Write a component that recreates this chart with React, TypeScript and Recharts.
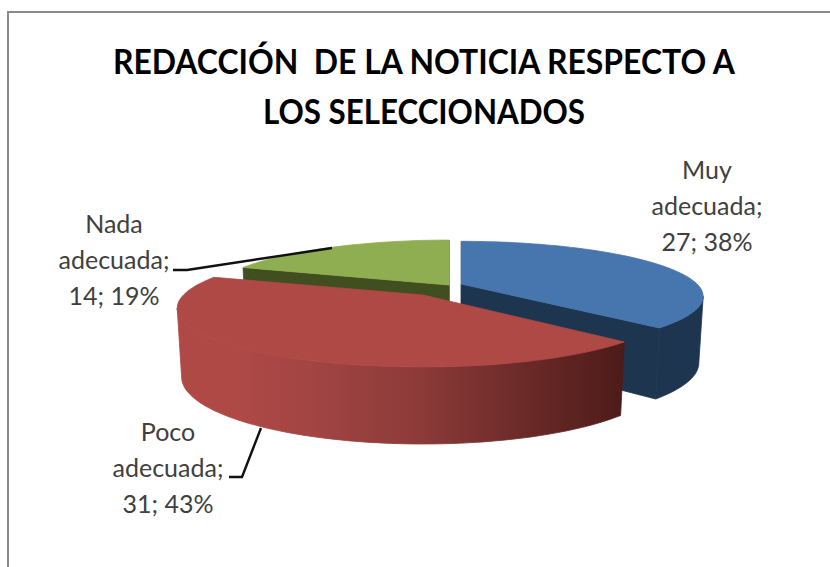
import { PieChart, Pie, Cell } from 'recharts';

// drawn green first so the later slices overlap it, same clockwise order as the picture
const CATEGORIES = ['Nada adecuada', 'Muy adecuada', 'Poco adecuada'];
const VALUES = [14, 27, 31];
const TOTAL = VALUES.reduce((a, b) => a + b, 0);

const TOP_COLORS = ['#8fae52', '#4776ae', '#ae4946'];
const EDGE_COLORS = ['#414f20', '#1e3550', '#5a2220'];
const WALL_STOPS = [
    [['0%', '#414f20'], ['100%', '#414f20']],
    [['0%', '#1e3550'], ['100%', '#1e3550']],
    [['0%', '#ae4946'], ['14%', '#ae4946'], ['30%', '#a24543'], ['55%', '#8b3a38'], ['82%', '#652725'], ['100%', '#4c1b19']],
];

// explosion of each slice and its small per-slice drawing corrections
const SLICE_STYLE = [
    { dx: 9, dy: -5, grow: 1, squash: 1, depth: 68 },
    { dx: 21, dy: -6, grow: 1, squash: 0.95, depth: 65 },
    { dx: -17, dy: 5, grow: 1.015, squash: 1, depth: 67 },
];
const LABELS = [
    { x: 114, y: 233, leader: '332,248 187,270 173,270' },
    { x: 707, y: 179, leader: '' },
    { x: 168, y: 441, leader: '261,428 242,477 229,477' },
];

const CX = 440;
const CY = 290;
const RADIUS = 236;
const FLATTEN = 0.233; // vertical squash of the disc
const PERSPECTIVE = 0.224; // how much nearer the front edge looks
const FONT = 'Lato, Carlito, sans-serif';

const rad = (d: number) => (d * Math.PI) / 180;

function project(ax: number, ay: number, r: number, squash: number, theta: number): [number, number] {
    const px = Math.sin(rad(theta));
    const py = -Math.cos(rad(theta));
    const s = 1 / (1 - PERSPECTIVE * py);
    return [ax + r * px * s, ay + r * FLATTEN * squash * py * s];
}

function Slice3D(props: any) {
    const { cx, cy, outerRadius, startAngle, endAngle, fill, name } = props;
    const i = CATEGORIES.indexOf(name);
    const st = SLICE_STYLE[i];
    const ax = cx + st.dx;
    const ay = cy + st.dy;
    const r = outerRadius * st.grow;
    let from = 90 - startAngle;
    let to = 90 - endAngle;
    if (from < 0) {
        from += 360;
        to += 360;
    }
    const at = (theta: number) => project(ax, ay, r, st.squash, theta);
    const arc = (a: number, b: number) => {
        const pts: [number, number][] = [];
        const steps = Math.max(2, Math.ceil(Math.abs(b - a) / 2));
        for (let n = 0; n <= steps; n++) pts.push(at(a + ((b - a) * n) / steps));
        return pts;
    };
    const lower = (p: [number, number]): [number, number] => [ax + (p[0] - ax) * 0.982, p[1] + st.depth + 0.14 * (p[1] - ay)];
    const toPath = (pts: [number, number][]) => 'M' + pts.map((p) => `${p[0].toFixed(1)},${p[1].toFixed(1)}`).join('L') + 'Z';

    const apex: [number, number] = [ax, ay];
    const radialWall = (theta: number) => {
        const p = at(theta);
        return toPath([apex, p, lower(p), lower(apex)]);
    };
    const showStart = Math.sin(rad(from)) < -0.001;
    const showEnd = Math.sin(rad(to)) > -0.001;

    // the outer wall only shows between the left and right silhouette points
    const limit = (Math.acos(-PERSPECTIVE) * 180) / Math.PI;
    const wFrom = Math.max(from, limit);
    const wTo = Math.min(to, 360 - limit);
    const hasWall = wTo > wFrom;
    const wallTop = hasWall ? arc(wFrom, wTo) : [];
    const wall = [...wallTop, ...wallTop.map(lower).reverse()];

    return (
        <g>
            <defs>
                <linearGradient id={`wall-${i}`} x1="0" y1="0" x2="1" y2="0">
                    {WALL_STOPS[i].map((s) => (
                        <stop key={s[0]} offset={s[0]} stopColor={s[1]} />
                    ))}
                </linearGradient>
            </defs>
            {showStart && <path d={radialWall(from)} fill={EDGE_COLORS[i]} stroke={EDGE_COLORS[i]} strokeWidth={0.8} />}
            {showEnd && <path d={radialWall(to)} fill={EDGE_COLORS[i]} stroke={EDGE_COLORS[i]} strokeWidth={0.8} />}
            {hasWall && <path d={toPath(wall)} fill={`url(#wall-${i})`} stroke={`url(#wall-${i})`} strokeWidth={0.8} />}
            <path d={toPath([apex, ...arc(from, to)])} fill={fill} stroke={fill} strokeWidth={0.8} />
        </g>
    );
}

function SliceLabel(props: any) {
    const { name, value } = props;
    const i = CATEGORIES.indexOf(name);
    const { x, y, leader } = LABELS[i];
    const words = name.split(' ');
    const pct = Math.round((value / TOTAL) * 100);
    const lines = [words[0], `${words[1]};`, `${value}; ${pct}%`];
    return (
        <g>
            {leader && <polyline points={leader} fill="none" stroke="#111" strokeWidth={2.4} />}
            <text textAnchor="middle" fontFamily={FONT} fontSize={25} fill="#404040">
                {lines.map((l, n) => (
                    <tspan key={n} x={x} y={y + n * 36}>
                        {l}
                    </tspan>
                ))}
            </text>
        </g>
    );
}

export default function App() {
    const data = CATEGORIES.map((name, i) => ({ name, value: VALUES[i] }));
    return (
        <div style={{ position: 'absolute', left: 0, top: 0, width: 830, height: 567, background: '#fff', overflow: 'hidden' }}>
            <div style={{ position: 'absolute', left: 7, top: 11, width: 830, height: 600, borderLeft: '2px solid #8a8a8a', borderTop: '2px solid #8a8a8a' }} />
            <div style={{ position: 'absolute', left: 0, top: 0 }}>
                <PieChart width={830} height={567} margin={{ top: 0, right: 0, bottom: 0, left: 0 }}>
                    <text x={424} y={74} textAnchor="middle" fontFamily={FONT} fontWeight={700} fontSize={33.5} fill="#000" textLength={622} lengthAdjust="spacingAndGlyphs" style={{ whiteSpace: 'pre' }}>
                        {'REDACCIÓN  DE LA NOTICIA RESPECTO A'}
                    </text>
                    <text x={424} y={124} textAnchor="middle" fontFamily={FONT} fontWeight={700} fontSize={33.5} fill="#000" textLength={322} lengthAdjust="spacingAndGlyphs">
                        LOS SELECCIONADOS
                    </text>
                    <Pie
                        data={data}
                        dataKey="value"
                        nameKey="name"
                        cx={CX}
                        cy={CY}
                        outerRadius={RADIUS}
                        startAngle={160}
                        endAngle={-200}
                        stroke="none"
                        shape={Slice3D}
                        label={SliceLabel}
                        labelLine={false}
                        isAnimationActive={false}
                    >
                        {data.map((d, i) => (
                            <Cell key={d.name} fill={TOP_COLORS[i]} />
                        ))}
                    </Pie>
                </PieChart>
            </div>
        </div>
    );
}
